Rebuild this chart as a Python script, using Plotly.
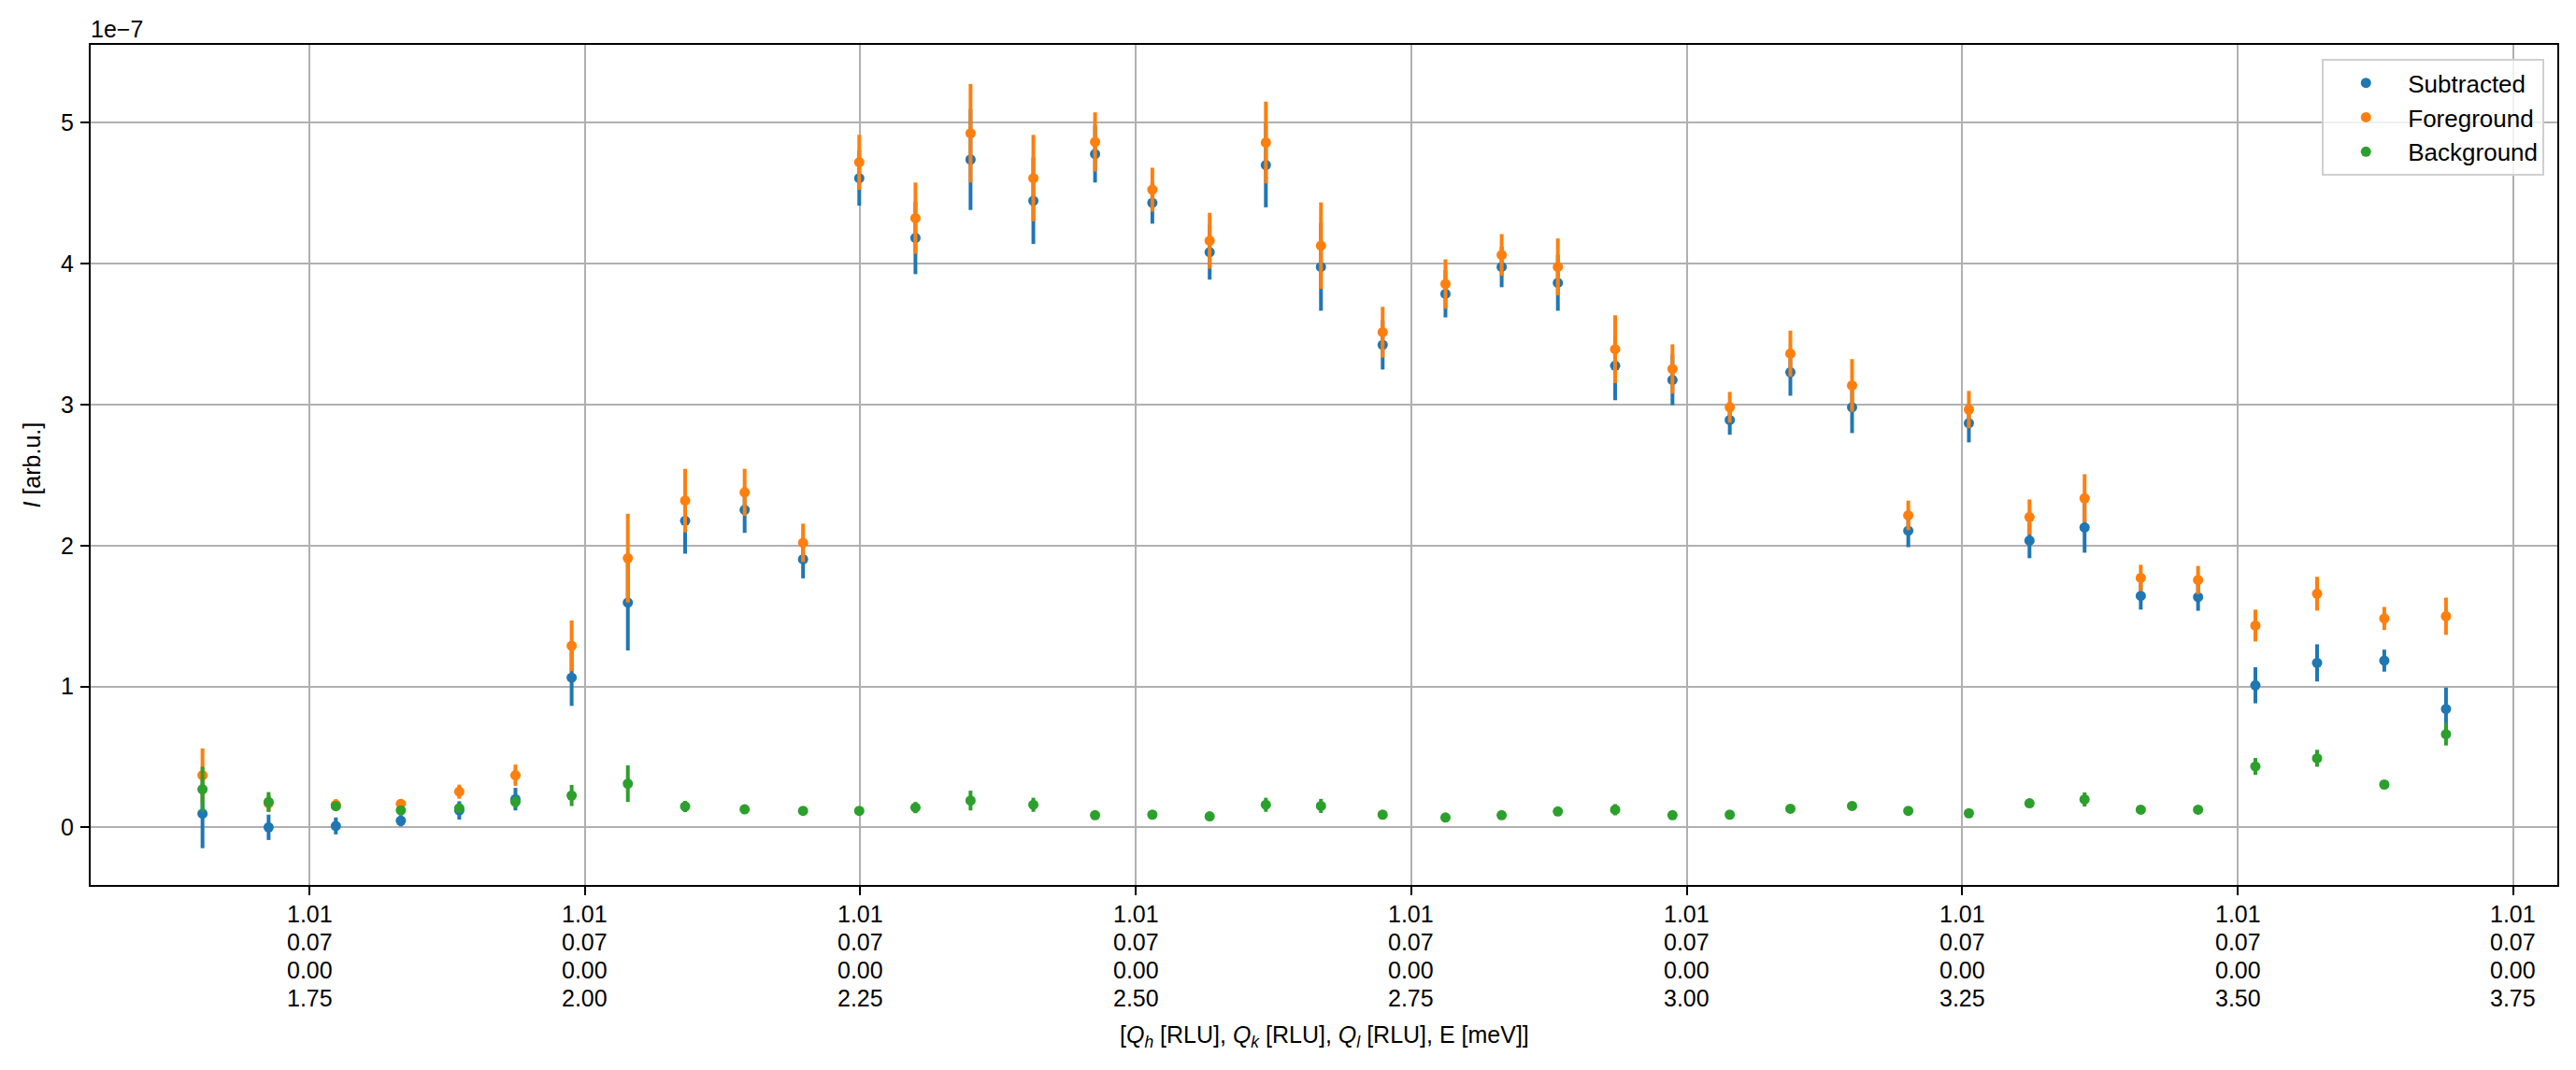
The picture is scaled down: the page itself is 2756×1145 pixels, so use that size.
import plotly.graph_objects as go

# Energy transfer (meV) of each point; Qh, Qk, Ql fixed
energy = [1.653, 1.713, 1.774, 1.833, 1.886, 1.937, 1.988, 2.039, 2.091,
          2.145, 2.198, 2.249, 2.300, 2.350, 2.407, 2.463, 2.515, 2.567, 2.618, 2.668,
          2.724, 2.781, 2.832, 2.883, 2.935, 2.987, 3.039, 3.094, 3.150, 3.201,
          3.256, 3.311, 3.361, 3.412, 3.464, 3.516, 3.572, 3.633, 3.689]

# Intensities in units of 1e-7 arb.u.
subtracted = [0.097, 0.00, 0.01, 0.047, 0.12, 0.20, 1.062, 1.595, 2.175,
              2.253, 1.903, 4.607, 4.183, 4.739, 4.447, 4.778, 4.432, 4.082, 4.70, 3.977,
              3.424, 3.786, 3.977, 3.864, 3.276, 3.175, 2.891, 3.23, 2.981, 2.105,
              2.868, 2.035, 2.128, 1.642, 1.634, 1.008, 1.167, 1.183, 0.84]
subtracted_err = [0.245, 0.09, 0.06, 0.04, 0.065, 0.08, 0.20, 0.34, 0.233,
                  0.163, 0.136, 0.195, 0.257, 0.358, 0.307, 0.202, 0.148, 0.195, 0.30, 0.311,
                  0.175, 0.167, 0.144, 0.198, 0.245, 0.179, 0.105, 0.167, 0.183, 0.117,
                  0.136, 0.125, 0.179, 0.097, 0.097, 0.128, 0.132, 0.078, 0.152]

foreground = [0.37, 0.17, 0.16, 0.167, 0.253, 0.37, 1.288, 1.91, 2.319,
              2.377, 2.019, 4.720, 4.323, 4.926, 4.607, 4.864, 4.525, 4.163, 4.86, 4.128,
              3.514, 3.856, 4.062, 3.977, 3.393, 3.253, 2.981, 3.362, 3.136, 2.214,
              2.965, 2.202, 2.335, 1.770, 1.755, 1.432, 1.658, 1.482, 1.498]
foreground_err = [0.19, 0.06, 0.04, 0.03, 0.05, 0.075, 0.18, 0.315, 0.225,
                  0.167, 0.136, 0.195, 0.253, 0.35, 0.307, 0.21, 0.156, 0.198, 0.29, 0.307,
                  0.18, 0.175, 0.148, 0.202, 0.241, 0.175, 0.109, 0.163, 0.187, 0.105,
                  0.132, 0.125, 0.171, 0.093, 0.10, 0.113, 0.12, 0.082, 0.132]

background = [0.27, 0.18, 0.15, 0.12, 0.136, 0.18, 0.226, 0.31, 0.148,
              0.128, 0.117, 0.117, 0.14, 0.19, 0.16, 0.086, 0.09, 0.078, 0.16, 0.152,
              0.09, 0.07, 0.086, 0.113, 0.125, 0.086, 0.09, 0.132, 0.152, 0.117,
              0.10, 0.171, 0.198, 0.125, 0.125, 0.432, 0.49, 0.304, 0.661]
background_err = [0.16, 0.07, 0.03, 0.03, 0.02, 0.04, 0.075, 0.13, 0.04,
                  0.02, 0.02, 0.02, 0.04, 0.07, 0.05, 0.02, 0.02, 0.02, 0.05, 0.05,
                  0.02, 0.02, 0.02, 0.02, 0.04, 0.02, 0.02, 0.02, 0.02, 0.02,
                  0.02, 0.02, 0.05, 0.02, 0.02, 0.06, 0.06, 0.02, 0.08]

# x tick positions (energy) and the four label rows: Qh, Qk, Ql, E
tick_energy = [1.75, 2.00, 2.25, 2.50, 2.75, 3.00, 3.25, 3.50, 3.75]
tick_qh = ["1.01"] * 9
tick_qk = ["0.07"] * 9
tick_ql = ["0.00"] * 9
tick_e = ["1.75", "2.00", "2.25", "2.50", "2.75", "3.00", "3.25", "3.50", "3.75"]

y_ticks = [0, 1, 2, 3, 4, 5]
y_ticklabels = ["0", "1", "2", "3", "4", "5"]

series = [("Subtracted", subtracted, subtracted_err, "#1f77b4"),
          ("Foreground", foreground, foreground_err, "#ff7f0e"),
          ("Background", background, background_err, "#2ca02c")]

FONT = "Liberation Sans, Arial, sans-serif"
FS = 25

fig = go.Figure()
for name, vals, errs, col in series:
    fig.add_trace(go.Scatter(
        x=energy, y=vals, mode="markers", name=name,
        marker=dict(color=col, size=11),
        error_y=dict(type="data", array=errs, visible=True, color=col,
                     thickness=4, width=0),
    ))

# page body has an 8px margin; figure sized so plot area lands where the reference has it
fig.update_layout(
    width=2748, height=1137,
    margin=dict(l=89, r=20, t=40, b=198, autoexpand=False),
    paper_bgcolor="white", plot_bgcolor="white",
    font=dict(family=FONT, size=FS, color="black"),
    showlegend=True,
    legend=dict(x=0.9948, y=0.983, xanchor="right", yanchor="top",
                bgcolor="rgba(255,255,255,0.8)", bordercolor="#d0d0d0", borderwidth=2,
                font=dict(size=26), itemwidth=80, tracegroupgap=0),
)
fig.update_xaxes(
    range=[1.5515, 3.790], tickmode="array", tickvals=tick_energy,
    showticklabels=False,
    showgrid=True, gridcolor="#b0b0b0", gridwidth=2,
    showline=True, linecolor="black", linewidth=2, mirror=True,
    ticks="outside", ticklen=9, tickwidth=2, tickcolor="black", zeroline=False,
    automargin=False,
)
fig.update_yaxes(
    range=[-0.409, 5.553], tickmode="array", tickvals=y_ticks, ticktext=y_ticklabels,
    showgrid=True, gridcolor="#b0b0b0", gridwidth=2,
    showline=True, linecolor="black", linewidth=2, mirror=True,
    ticks="outside", ticklen=9, tickwidth=2, tickcolor="black", zeroline=False,
    automargin=False, ticklabelstandoff=2, tickfont=dict(size=FS),
)

# multi-row x tick labels (Qh, Qk, Ql, E) under each tick
row_offsets = [31, 61, 91, 121]
for rows, off in zip([tick_qh, tick_qk, tick_ql, tick_e], row_offsets):
    for xv, txt in zip(tick_energy, rows):
        fig.add_annotation(xref="x", yref="paper", x=xv, y=0, yanchor="middle",
                           yshift=-off, text=txt, showarrow=False,
                           font=dict(size=FS))

# axis titles
fig.add_annotation(xref="paper", yref="paper", x=0.5, y=0, yanchor="middle",
                   yshift=-(1109 - 947), showarrow=False,
                   text="[<i>Q<sub>h</sub></i> [RLU], <i>Q<sub>k</sub></i> [RLU], <i>Q<sub>l</sub></i> [RLU], E [meV]]",
                   font=dict(size=FS))
fig.add_annotation(xref="paper", yref="paper", x=0, y=0.5, xanchor="center",
                   xshift=-(97 - 33), showarrow=False, textangle=-90,
                   text="<i>I</i> [arb.u.]", font=dict(size=FS))
# offset (scale) text
fig.add_annotation(xref="paper", yref="paper", x=0, y=1, xanchor="left", yanchor="bottom",
                   text="1e\u22127", showarrow=False, font=dict(size=FS), xshift=-2, yshift=1)

fig.write_html("out.html")
